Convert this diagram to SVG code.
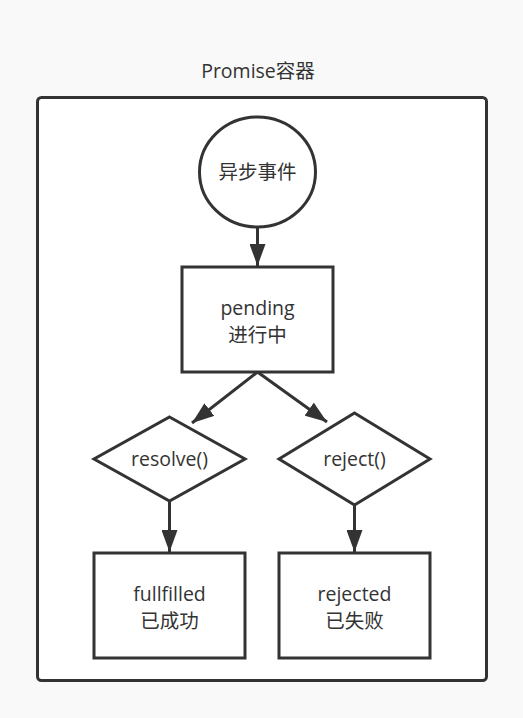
<svg xmlns="http://www.w3.org/2000/svg" width="523" height="718" viewBox="0 0 523 718">
<style>
.shape{fill:#ffffff;stroke:#333333;stroke-width:3}
.txt{font-family:"Open Sans","Noto Sans CJK SC",sans-serif;font-size:19.5px;fill:#333333;text-anchor:middle}
.title{font-family:"Open Sans","Noto Sans CJK SC",sans-serif;font-size:19.5px;fill:#333333;text-anchor:middle}
.edge{fill:none;stroke:#333333;stroke-width:3}
</style>
<defs>
<marker id="arrow" markerUnits="userSpaceOnUse" markerWidth="24" markerHeight="16" refX="22" refY="8" orient="auto">
<path d="M0,0 L22,8 L0,16 Z" fill="#333333"/>
</marker>
</defs>
<rect x="0" y="0" width="523" height="718" fill="#f9f9f9"/>
<text class="title" x="258" y="78">Promise容器</text>
<g id="container">
<rect class="shape" x="37.5" y="97.5" width="449" height="583" rx="4"/>
</g>
<g id="event">
<ellipse class="shape" cx="257.5" cy="172" rx="58" ry="55"/>
<text class="txt" x="257.5" y="179">异步事件</text>
</g>
<g id="pending">
<rect class="shape" x="182" y="267" width="151" height="105"/>
<text class="txt" x="257.5" y="315">pending</text>
<text class="txt" x="257.5" y="342">进行中</text>
</g>
<g id="resolve">
<path class="shape" d="M169.5,417 L245,459 L169.5,501 L94,459 Z"/>
<text class="txt" x="169.5" y="466">resolve()</text>
</g>
<g id="reject">
<path class="shape" d="M354.5,413 L430,459 L354.5,505 L279,459 Z"/>
<text class="txt" x="354.5" y="466">reject()</text>
</g>
<g id="fullfilled">
<rect class="shape" x="94" y="553" width="151" height="105"/>
<text class="txt" x="169.5" y="601">fullfilled</text>
<text class="txt" x="169.5" y="628">已成功</text>
</g>
<g id="rejected">
<rect class="shape" x="279" y="553" width="151" height="105"/>
<text class="txt" x="354.5" y="601">rejected</text>
<text class="txt" x="354.5" y="628">已失败</text>
</g>
<g id="connectors">
<path class="edge" d="M257.5,227 L257.5,266" marker-end="url(#arrow)"/>
<path class="edge" d="M257.5,372 L192,423" marker-end="url(#arrow)"/>
<path class="edge" d="M257.5,372 L327,422" marker-end="url(#arrow)"/>
<path class="edge" d="M169.5,501 L169.5,552" marker-end="url(#arrow)"/>
<path class="edge" d="M354.5,505 L354.5,552" marker-end="url(#arrow)"/>
</g>
</svg>
